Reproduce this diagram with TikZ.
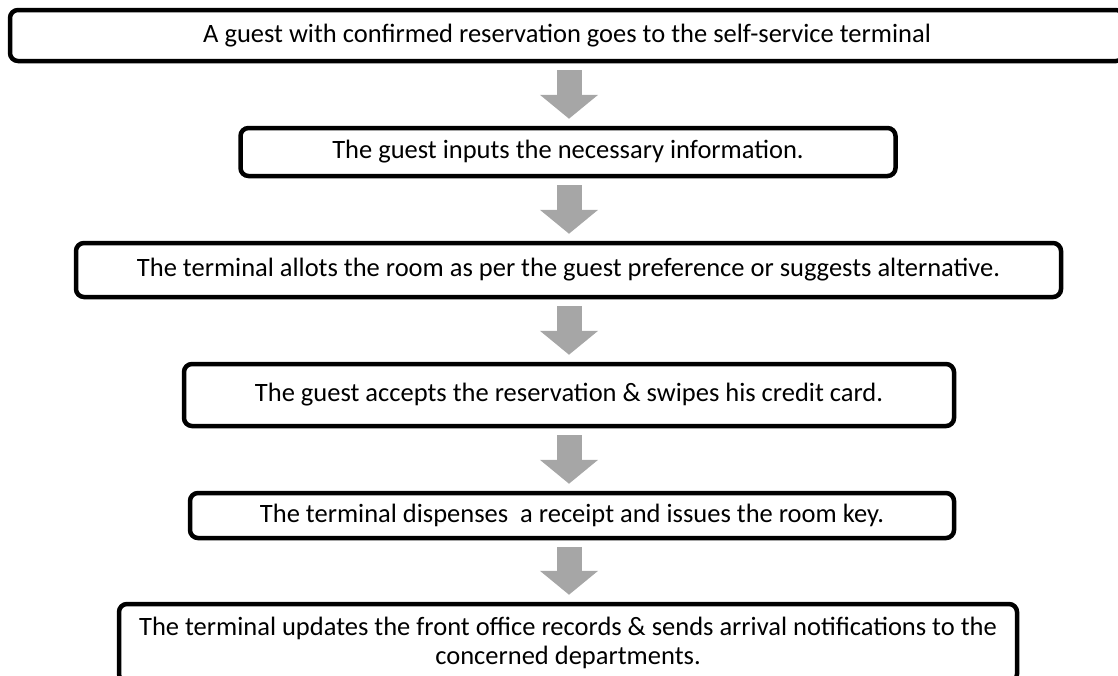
\documentclass[tikz,border=0pt]{standalone}
\usepackage{fontspec}
\setmainfont{Carlito}
\usetikzlibrary{arrows.meta, positioning}
\definecolor{arrowgray}{HTML}{A6A6A6}
\tikzset{
	stepbox/.style={draw, rectangle, rounded corners=8pt, line width=4.5pt, inner sep=0pt, align=center, font=\fontsize{26.5}{29}\selectfont},
	flowarrow/.style={draw=arrowgray, line width=25pt, -{Triangle[width=57pt, length=24pt]}, arrowgray, shorten <=7pt, shorten >=7pt}
}
\begin{document}
\begin{tikzpicture}[x=1pt, y=-1pt]
	\useasboundingbox (0,0) rectangle (1118,675);
	\clip (0,0) rectangle (1118,675);
	
	% steps of the self check-in
	\node[stepbox, minimum width=1114pt, minimum height=51pt] (guest_arrives) at (567,35.5) {A guest with confirmed reservation goes to the self-service terminal};
	\node[stepbox, minimum width=655pt, minimum height=48pt] (input_info) at (568,152) {The guest inputs the necessary information.};
	\node[stepbox, minimum width=985pt, minimum height=54pt] (allot_room) at (568.5,270) {The terminal allots the room as per the guest preference or suggests alternative.};
	\node[stepbox, minimum width=770pt, minimum height=62pt] (accept_res) at (569,395) {The guest accepts the reservation \& swipes his credit card.};
	\node[stepbox, minimum width=764pt, minimum height=45pt] (dispense_key) at (572,515.5) {The terminal dispenses~~a receipt and issues the room key.};
	\node[stepbox, minimum width=898pt, minimum height=78pt] (update_records) at (568,643) {The terminal updates the front office records \& sends arrival notifications to the\\concerned departments.};
	
	% block arrows between the steps
	\coordinate (arrow_x) at (569,0);
	\draw[flowarrow] (guest_arrives.south -| arrow_x) -- (input_info.north -| arrow_x);
	\draw[flowarrow] (input_info.south -| arrow_x) -- (allot_room.north -| arrow_x);
	\draw[flowarrow] (allot_room.south -| arrow_x) -- (accept_res.north -| arrow_x);
	\draw[flowarrow] (accept_res.south -| arrow_x) -- (dispense_key.north -| arrow_x);
	\draw[flowarrow] (dispense_key.south -| arrow_x) -- (update_records.north -| arrow_x);
	
\end{tikzpicture}
\end{document}
